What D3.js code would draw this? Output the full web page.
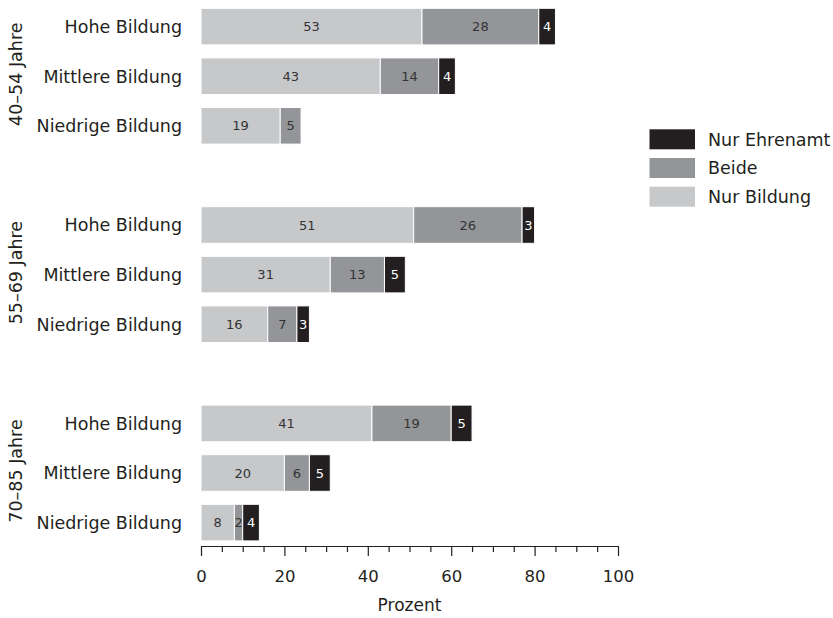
<!DOCTYPE html>
<html><head><meta charset="utf-8">
<script src="https://cdn.jsdelivr.net/npm/d3@7"></script>
<style>
html,body{margin:0;padding:0;background:#fff;}
svg{display:block;font-family:"DejaVu Sans",sans-serif;}
</style></head>
<body><svg id="chart" width="833" height="618"></svg>
<script>
const groups = ["40–54 Jahre", "55–69 Jahre", "70–85 Jahre"];
const levels = ["Hohe Bildung", "Mittlere Bildung", "Niedrige Bildung"];
const nurBildung  = [53, 43, 19, 51, 31, 16, 41, 20, 8];
const beide       = [28, 14, 5, 26, 13, 7, 19, 6, 2];
const nurEhrenamt = [4, 4, 0, 3, 5, 3, 5, 5, 4];
const seriesNames = ["Nur Bildung", "Beide", "Nur Ehrenamt"];
const seriesColors = ["#c7c8ca", "#939598", "#231f20"];
const labelColors = ["#333333", "#333333", "#ffffff"];
const xTicks = [0, 20, 40, 60, 80, 100];

const svg = d3.select("#chart");

// build rows
const rows = [];
groups.forEach((g, gi) => levels.forEach((l, li) => {
  const i = gi * levels.length + li;
  rows.push({key: g + "|" + l, group: g, level: l, vals: [nurBildung[i], beide[i], nurEhrenamt[i]]});
}));
const domain = [];
groups.forEach((g, gi) => {
  levels.forEach(l => domain.push(g + "|" + l));
  if (gi < groups.length - 1) domain.push("spacer" + gi);
});

const x = d3.scaleLinear().domain([0, 100]).range([201, 618]);
const y = d3.scaleBand().domain(domain).range([1.8, 547.4]).paddingInner(0.262).paddingOuter(0.131);

// bars
rows.forEach(r => {
  let acc = 0;
  const g = svg.append("g");
  r.vals.forEach((v, si) => {
    if (v <= 0) return;
    g.append("rect")
      .attr("x", x(acc)).attr("y", y(r.key))
      .attr("width", x(acc + v) - x(acc)).attr("height", y.bandwidth())
      .attr("fill", seriesColors[si])
      .attr("stroke", "#fff").attr("stroke-width", 1);
    g.append("text")
      .attr("x", (x(acc) + x(acc + v)) / 2)
      .attr("y", y(r.key) + y.bandwidth() / 2)
      .attr("dy", "0.36em")
      .attr("text-anchor", "middle")
      .attr("font-size", 13)
      .attr("fill", labelColors[si])
      .text(v);
    acc += v;
  });
  // category label
  svg.append("text")
    .attr("x", 182).attr("y", y(r.key) + y.bandwidth() / 2)
    .attr("dy", "0.36em").attr("text-anchor", "end")
    .attr("font-size", 17.5).attr("fill", "#231f20")
    .text(r.level);
});

// group labels
groups.forEach(g => {
  const y0 = y(g + "|" + levels[0]);
  const y1 = y(g + "|" + levels[levels.length - 1]) + y.bandwidth();
  const cy = (y0 + y1) / 2 - 2;
  svg.append("text")
    .attr("transform", `translate(16,${cy}) rotate(-90)`)
    .attr("dy", "0.36em").attr("text-anchor", "middle")
    .attr("font-size", 17.5).attr("fill", "#231f20")
    .text(g);
});

// axis
const axisY = 546;
const minorTicks = d3.range(0, 101, 5).filter(t => t % 20 !== 0);
const axG = svg.append("g").attr("transform", `translate(0,${axisY})`);
axG.call(d3.axisBottom(x).tickValues(minorTicks).tickSize(6).tickSizeOuter(0).tickFormat(""));
const axM = svg.append("g").attr("transform", `translate(0,${axisY})`);
axM.call(d3.axisBottom(x).tickValues(xTicks).tickSize(10).tickSizeOuter(0).tickPadding(14).tickFormat(d3.format("d")));
svg.selectAll(".domain").attr("stroke", "#231f20").attr("stroke-width", 1.2);
svg.selectAll(".tick line").attr("stroke", "#231f20").attr("stroke-width", 1.2);
axM.selectAll(".tick text").attr("font-size", 16.5).attr("fill", "#231f20").attr("font-family", "DejaVu Sans, sans-serif");
axM.select(".domain").remove();

svg.append("text")
  .attr("x", (x(0) + x(100)) / 2).attr("y", 605).attr("dy", "0.36em")
  .attr("text-anchor", "middle").attr("font-size", 17).attr("fill", "#231f20")
  .text("Prozent");

// legend
const legendOrder = [2, 1, 0];
legendOrder.forEach((si, k) => {
  const ly = 129.3 + k * 28.7;
  svg.append("rect").attr("x", 649.5).attr("y", ly).attr("width", 45.5).attr("height", 20)
    .attr("fill", seriesColors[si]);
  svg.append("text").attr("x", 708).attr("y", ly + 10).attr("dy", "0.36em")
    .attr("font-size", 17.5).attr("fill", "#231f20").text(seriesNames[si]);
});
</script></body></html>
